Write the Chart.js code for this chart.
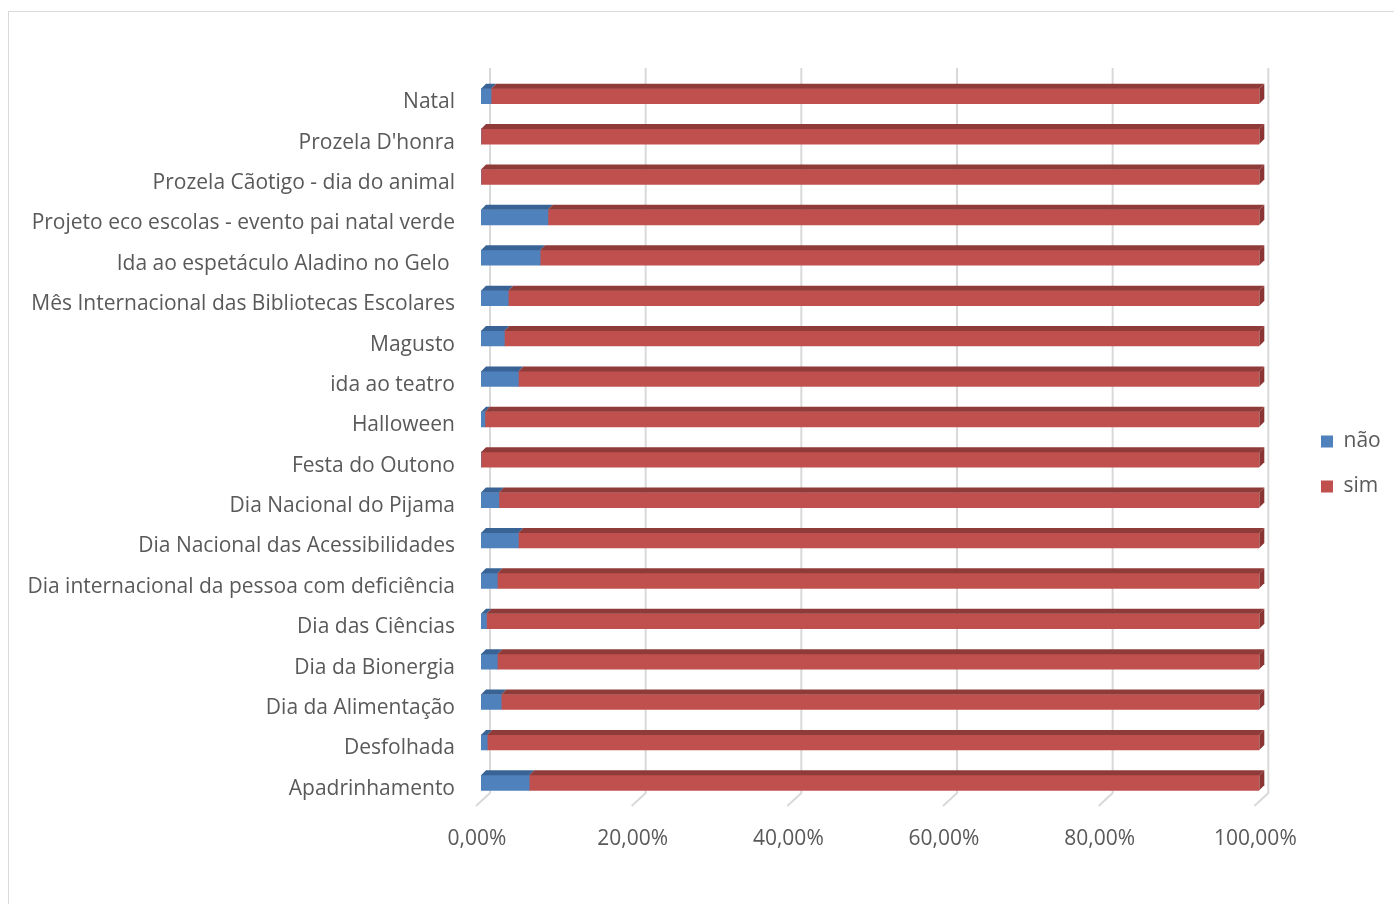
<!DOCTYPE html>
<html>
<head>
<meta charset="utf-8">
<script src="https://cdn.jsdelivr.net/npm/chart.js@4.4.1/dist/chart.umd.min.js"></script>
<style>
  html, body { margin: 0; padding: 0; background: #fff; overflow: hidden; }
  #frame { position: absolute; left: 8px; top: 11px; width: 1400px; height: 900px; border: 1px solid #d9d9d9; }
  #wrap { position: absolute; left: 0; top: 0; width: 1394px; height: 904px; }
</style>
</head>
<body>
<div id="frame"></div>
<div id="wrap"><canvas id="chart" width="1394" height="904"></canvas></div>
<script>
const categories = [
  "Natal",
  "Prozela D'honra",
  "Prozela Cãotigo - dia do animal",
  "Projeto eco escolas - evento pai natal verde",
  "Ida ao espetáculo Aladino no Gelo ",
  "Mês Internacional das Bibliotecas Escolares",
  "Magusto",
  "ida ao teatro",
  "Halloween",
  "Festa do Outono",
  "Dia Nacional do Pijama",
  "Dia Nacional das Acessibilidades",
  "Dia internacional da pessoa com deficiência",
  "Dia das Ciências",
  "Dia da Bionergia",
  "Dia da Alimentação",
  "Desfolhada",
  "Apadrinhamento"
];
const naoValues = [1.3, 0, 0, 8.6, 7.6, 3.5, 3.0, 4.8, 0.5, 0, 2.3, 4.8, 2.1, 0.7, 2.1, 2.6, 0.8, 6.2];
const simValues = [98.7, 100, 100, 91.4, 92.4, 96.5, 97.0, 95.2, 99.5, 100, 97.7, 95.2, 97.9, 99.3, 97.9, 97.4, 99.2, 93.8];
const tickValues = [0, 20, 40, 60, 80, 100];

const textColor = "#595959";
const fontFamily = "'Open Sans', 'Noto Sans', sans-serif";

// back-wall grid lines + floor, drawn with a little 3D offset like Excel
const grid3d = {
  id: "grid3d",
  beforeDatasetsDraw(chart) {
    const ctx = chart.ctx;
    const xs = chart.scales.x;
    const area = chart.chartArea;
    ctx.save();
    ctx.strokeStyle = "#d9d9d9";
    ctx.lineWidth = 2;
    tickValues.forEach(v => {
      const px = xs.getPixelForValue(v);
      ctx.beginPath();
      ctx.moveTo(px + 9, area.top - 8);
      ctx.lineTo(px + 9, area.bottom - 10);
      ctx.lineTo(px - 5, area.bottom + 3);
      ctx.stroke();
    });
    ctx.restore();
  }
};

// top and side faces of the bars
const bars3d = {
  id: "bars3d",
  afterDatasetsDraw(chart) {
    const ctx = chart.ctx;
    const dx = 5, dy = 5;
    ctx.save();
    chart.data.datasets.forEach((ds, i) => {
      const meta = chart.getDatasetMeta(i);
      const last = i === chart.data.datasets.length - 1;
      meta.data.forEach(bar => {
        const left = Math.min(bar.base, bar.x);
        const right = Math.max(bar.base, bar.x);
        if (right - left < 0.5) return;
        const top = bar.y - bar.height / 2;
        const bottom = bar.y + bar.height / 2;
        ctx.fillStyle = ds.topColor;
        ctx.beginPath();
        ctx.moveTo(left, top);
        ctx.lineTo(left + dx, top - dy);
        ctx.lineTo(right + dx, top - dy);
        ctx.lineTo(right, top);
        ctx.closePath();
        ctx.fill();
        if (last) {
          ctx.fillStyle = ds.sideColor;
          ctx.beginPath();
          ctx.moveTo(right, top);
          ctx.lineTo(right + dx, top - dy);
          ctx.lineTo(right + dx, bottom - dy);
          ctx.lineTo(right, bottom);
          ctx.closePath();
          ctx.fill();
        }
      });
    });
    ctx.restore();
  }
};

// push the legend a bit further right, away from the plot
const legendShift = {
  id: "legendShift",
  afterLayout(chart) {
    const lg = chart.legend;
    if (!lg) return;
    const target = 1297;
    const d = target - lg.left;
    lg.left += d;
    lg.right += d;
  }
};

new Chart(document.getElementById("chart"), {
  type: "bar",
  data: {
    labels: categories,
    datasets: [
      { label: "não", data: naoValues, backgroundColor: "#4f81bd", topColor: "#3a6395", sideColor: "#2f5280", barThickness: 15 },
      { label: "sim", data: simValues, backgroundColor: "#c0504d", topColor: "#8f3b39", sideColor: "#8a3533", barThickness: 15 }
    ]
  },
  options: {
    indexAxis: "y",
    responsive: false,
    animation: false,
    layout: { padding: { left: 0, top: 76, right: 41, bottom: 52 } },
    plugins: {
      legend: {
        position: "right",
        labels: {
          color: textColor,
          font: { family: fontFamily, size: 21 },
          boxWidth: 12,
          boxHeight: 12,
          padding: 24
        }
      },
      tooltip: { enabled: false }
    },
    scales: {
      x: {
        stacked: true,
        min: 0,
        max: 100,
        grid: { display: false },
        border: { display: false },
        ticks: {
          stepSize: 20,
          color: textColor,
          font: { family: fontFamily, size: 21 },
          padding: 15,
          labelOffset: -4,
          callback: v => v.toFixed(2).replace(".", ",") + "%"
        },
        afterFit(scale) { scale.height = 49; }
      },
      y: {
        stacked: true,
        grid: { display: false, drawTicks: false },
        border: { display: false },
        ticks: {
          color: textColor,
          font: { family: fontFamily, size: 21 },
          padding: 26,
          labelOffset: 6
        },
        afterFit(scale) { scale.width = 481; }
      }
    }
  },
  plugins: [grid3d, bars3d, legendShift]
});
</script>
</body>
</html>
